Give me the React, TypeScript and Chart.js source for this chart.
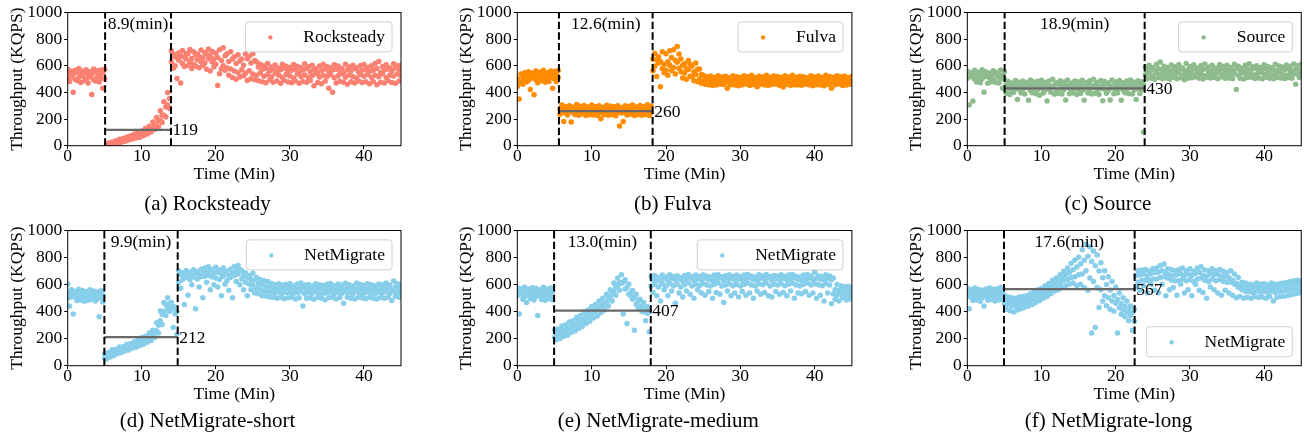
import React, { useEffect, useRef } from "react";
import { Chart, registerables } from "chart.js";

Chart.register(...registerables);

// ---------------- DATA ----------------
// sample times (minutes); rows *_1 and *_3 use TIMES, rows *_2 and *_4 use TIMES_B
const TIMES = [
  0, 0.5, 1, 1.5, 2, 2.5, 3, 3.5, 4, 4.5,
  5, 5.5, 6, 6.5, 7, 7.5, 8, 8.5, 9, 9.5,
  10, 10.5, 11, 11.5, 12, 12.5, 13, 13.5, 14, 14.5,
  15, 15.5, 16, 16.5, 17, 17.5, 18, 18.5, 19, 19.5,
  20, 20.5, 21, 21.5, 22, 22.5, 23, 23.5, 24, 24.5,
  25, 25.5, 26, 26.5, 27, 27.5, 28, 28.5, 29, 29.5,
  30, 30.5, 31, 31.5, 32, 32.5, 33, 33.5, 34, 34.5,
  35, 35.5, 36, 36.5, 37, 37.5, 38, 38.5, 39, 39.5,
  40, 40.5, 41, 41.5, 42, 42.5, 43, 43.5, 44, 44.5,
  45,
];
const TIMES_B = [
  0.25, 0.75, 1.25, 1.75, 2.25, 2.75, 3.25, 3.75, 4.25, 4.75,
  5.25, 5.75, 6.25, 6.75, 7.25, 7.75, 8.25, 8.75, 9.25, 9.75,
  10.25, 10.75, 11.25, 11.75, 12.25, 12.75, 13.25, 13.75, 14.25, 14.75,
  15.25, 15.75, 16.25, 16.75, 17.25, 17.75, 18.25, 18.75, 19.25, 19.75,
  20.25, 20.75, 21.25, 21.75, 22.25, 22.75, 23.25, 23.75, 24.25, 24.75,
  25.25, 25.75, 26.25, 26.75, 27.25, 27.75, 28.25, 28.75, 29.25, 29.75,
  30.25, 30.75, 31.25, 31.75, 32.25, 32.75, 33.25, 33.75, 34.25, 34.75,
  35.25, 35.75, 36.25, 36.75, 37.25, 37.75, 38.25, 38.75, 39.25, 39.75,
  40.25, 40.75, 41.25, 41.75, 42.25, 42.75, 43.25, 43.75, 44.25, 44.75,
];
const X_TICKS = [0, 10, 20, 30, 40];
const Y_TICKS = [0, 200, 400, 600, 800, 1000];

// (a) Rocksteady
const ROCK_WINDOW = [5.05, 13.95];
const ROCK_MEAN = 119;
const ROCK_1 = [
  572, 558, 566, 580, 561, 570, 555, 576, 563, 569,
  574, 20, 28, 37, 48, 54, 66, 74, 88, 97,
  110, 130, 146, 178, 212, 262, 330, 400, 712, 684,
  698, 715, 690, 722, 705, 688, 718, 700, 726, 708,
  695, 720, 736, 690, 705, 668, 682, 650, 688, 672,
  690, 628, 612, 598, 618, 590, 606, 584, 612, 596,
  588, 610, 596, 585, 615, 592, 604, 580, 598, 612,
  594, 586, 608, 598, 580, 612, 590, 604, 586, 600,
  610, 588, 600, 618, 632, 594, 608, 586, 616, 600,
  604,
];
const ROCK_2 = [
  545, 538, 552, 530, 548, 540, 535, 555, 528, 546,
  10, 16, 24, 32, 40, 48, 60, 68, 80, 86,
  100, 115, 134, 156, 188, 230, 290, 355, 672, 660,
  676, 664, 690, 655, 682, 670, 660, 688, 672, 650,
  662, 640, 676, 632, 650, 618, 636, 604, 652, 620,
  640, 590, 572, 580, 560, 576, 552, 570, 582, 558,
  566, 574, 550, 568, 580, 556, 572, 548, 564, 576,
  552, 568, 574, 556, 548, 570, 562, 578, 554, 566,
  572, 558, 566, 580, 550, 568, 576, 560, 584, 570,
];
const ROCK_3 = [
  505, 520, 498, 512, 526, 502, 515, 495, 518, 508,
  500, 6, 14, 24, 29, 40, 44, 57, 62, 74,
  82, 98, 110, 132, 150, 192, 228, 305, 628, 600,
  642, 618, 650, 626, 612, 645, 630, 620, 652, 628,
  612, 540, 600, 585, 576, 560, 548, 570, 544, 562,
  538, 528, 545, 522, 534, 516, 540, 528, 512, 536,
  524, 508, 538, 520, 530, 512, 526, 540, 515, 528,
  518, 532, 510, 526, 540, 514, 530, 520, 508, 534,
  522, 536, 514, 528, 518, 540, 512, 530, 524, 538,
  526,
];
const ROCK_4 = [
  482, 402, 490, 475, 488, 470, 384, 486, 478, 432,
  2, 6, 12, 20, 26, 34, 42, 50, 58, 64,
  76, 88, 102, 122, 142, 175, 215, 280, 582, 505,
  470, 594, 602, 580, 598, 586, 604, 574, 560, 592,
  452, 578, 566, 528, 512, 498, 515, 526, 490, 502,
  496, 488, 480, 472, 494, 476, 485, 468, 490, 478,
  472, 486, 468, 482, 476, 490, 450, 474, 466, 484,
  432, 402, 470, 484, 476, 462, 480, 470, 486, 474,
  480, 466, 482, 458, 476, 470, 488, 474, 468, 486,
];

// (b) Fulva
const FULVA_WINDOW = [5.6, 18.2];
const FULVA_MEAN = 260;
const FULVA_1 = [
  505, 538, 548, 556, 545, 560, 552, 566, 548, 560,
  558, 565, 305, 292, 300, 288, 310, 296, 302, 290,
  306, 294, 300, 286, 304, 298, 292, 300, 284, 300,
  296, 305, 290, 302, 294, 308, 298, 692, 668, 705,
  690, 712, 720, 745, 650, 615, 640, 598, 620, 575,
  528, 518, 524, 512, 526, 516, 522, 510, 525, 518,
  514, 526, 518, 528, 512, 522, 516, 528, 514, 524,
  520, 512, 526, 516, 528, 514, 522, 518, 510, 526,
  516, 524, 512, 528, 520, 514, 526, 518, 524, 512,
  522,
];
const FULVA_2 = [
  470, 512, 525, 518, 532, 522, 540, 526, 534, 540,
  530, 272, 278, 268, 276, 270, 282, 266, 274, 270,
  278, 268, 274, 270, 280, 266, 276, 272, 268, 278,
  270, 276, 266, 280, 272, 268, 650, 645, 632, 610,
  630, 662, 642, 688, 604, 578, 612, 556, 574, 534,
  502, 496, 504, 492, 500, 506, 494, 500, 490, 502,
  498, 504, 492, 500, 506, 494, 502, 496, 504, 492,
  500, 494, 506, 498, 490, 502, 496, 504, 494, 500,
  496, 504, 492, 500, 506, 494, 502, 490, 498, 504,
];
const FULVA_3 = [
  445, 478, 500, 492, 508, 496, 512, 500, 505, 514,
  500, 512, 252, 246, 258, 248, 244, 256, 250, 242,
  254, 246, 250, 242, 256, 248, 240, 252, 246, 250,
  244, 254, 246, 252, 240, 256, 250, 598, 620, 580,
  566, 604, 588, 626, 556, 545, 572, 518, 534, 500,
  478, 482, 470, 476, 484, 472, 480, 468, 478, 474,
  480, 470, 478, 484, 468, 476, 482, 470, 478, 486,
  472, 480, 468, 478, 484, 470, 476, 482, 468, 478,
  476, 484, 470, 478, 466, 482, 474, 480, 470, 484,
  476,
];
const FULVA_4 = [
  350, 462, 478, 422, 382, 472, 488, 476, 482, 432,
  482, 236, 182, 230, 178, 234, 228, 238, 226, 232,
  230, 226, 202, 234, 228, 232, 224, 148, 182, 230,
  236, 226, 232, 228, 234, 226, 562, 520, 442, 548,
  528, 564, 538, 582, 508, 498, 522, 488, 480, 468,
  462, 458, 452, 456, 462, 460, 432, 458, 456, 450,
  458, 464, 452, 460, 442, 462, 456, 452, 460, 464,
  454, 440, 462, 452, 458, 456, 454, 462, 458, 450,
  458, 456, 450, 462, 432, 458, 464, 452, 456, 462,
];

// (c) Source
const SOURCE_WINDOW = [5.03, 23.9];
const SOURCE_MEAN = 430;
const SOURCE_1 = [
  560, 548, 566, 552, 570, 556, 545, 562, 550, 568,
  555, 482, 470, 490, 476, 486, 472, 494, 478, 484,
  492, 474, 486, 498, 472, 488, 478, 494, 470, 486,
  480, 492, 474, 488, 498, 476, 490, 482, 470, 494,
  478, 490, 472, 486, 494, 476, 488, 480, 590, 604,
  586, 612, 628, 596, 588, 606, 592, 610, 584, 618,
  594, 608, 586, 602, 614, 590, 604, 584, 610, 596,
  604, 588, 612, 596, 584, 606, 616, 592, 600, 588,
  608, 594, 586, 612, 598, 590, 606, 596, 614, 600,
  612,
];
const SOURCE_2 = [
  532, 540, 524, 545, 530, 536, 528, 542, 534, 526,
  456, 446, 460, 450, 458, 444, 462, 452, 448, 458,
  450, 462, 446, 456, 464, 448, 458, 452, 444, 460,
  454, 446, 462, 450, 458, 444, 456, 464, 448, 452,
  460, 446, 456, 450, 462, 448, 454, 458, 566, 574,
  562, 578, 568, 574, 558, 570, 566, 580, 560, 572,
  568, 580, 564, 572, 576, 562, 574, 568, 578, 566,
  574, 562, 578, 568, 560, 576, 570, 582, 566, 572,
  578, 566, 572, 562, 580, 570, 576, 564, 574, 568,
];
const SOURCE_3 = [
  505, 518, 498, 512, 502, 520, 508, 496, 515, 504,
  500, 428, 416, 432, 420, 426, 436, 414, 430, 422,
  434, 418, 426, 438, 414, 430, 420, 436, 416, 428,
  424, 414, 432, 420, 436, 418, 430, 424, 412, 434,
  420, 432, 416, 428, 436, 418, 430, 422, 532, 545,
  526, 548, 536, 544, 528, 540, 532, 550, 526, 538,
  542, 530, 548, 536, 526, 544, 534, 540, 550, 532,
  546, 532, 540, 528, 548, 536, 544, 530, 538, 550,
  534, 546, 530, 542, 550, 536, 528, 544, 540, 534,
  548,
];
const SOURCE_4 = [
  305, 335, 478, 472, 402, 468, 480, 476, 470, 432,
  392, 384, 402, 346, 396, 388, 342, 398, 390, 378,
  396, 336, 402, 386, 394, 388, 344, 390, 396, 384,
  392, 342, 396, 388, 394, 384, 338, 394, 344, 390,
  396, 342, 398, 390, 388, 346, 392, 102, 502, 508,
  498, 512, 504, 508, 500, 514, 502, 510, 496, 506,
  510, 516, 506, 500, 514, 508, 512, 502, 516, 506,
  508, 502, 422, 506, 500, 512, 514, 504, 508, 502,
  514, 506, 502, 512, 508, 504, 510, 506, 462, 512,
];

// (d) NetMigrate-short
const SHORT_WINDOW = [4.95, 14.85];
const SHORT_MEAN = 212;
const SHORT_1 = [
  605, 562, 550, 566, 556, 548, 562, 552, 546, 555,
  88, 98, 118, 122, 138, 142, 158, 162, 178, 188,
  208, 218, 242, 262, 318, 405, 468, 502, 468, 428,
  702, 688, 705, 692, 710, 696, 714, 722, 732, 712,
  728, 706, 722, 698, 716, 734, 742, 702, 688, 668,
  684, 652, 638, 628, 622, 608, 598, 606, 596, 602,
  608, 592, 604, 612, 596, 600, 590, 606, 598, 594,
  602, 608, 592, 604, 596, 610, 598, 590, 612, 600,
  596, 606, 598, 592, 604, 598, 612, 596, 626, 606,
  602,
];
const SHORT_2 = [
  538, 528, 540, 532, 545, 530, 536, 528, 534, 522,
  72, 86, 98, 110, 120, 130, 140, 150, 160, 172,
  185, 200, 218, 245, 300, 380, 452, 460, 440, 400,
  672, 658, 682, 668, 684, 672, 686, 692, 702, 688,
  692, 678, 694, 668, 688, 702, 712, 668, 652, 638,
  636, 608, 598, 588, 584, 572, 568, 574, 566, 572,
  574, 562, 570, 580, 564, 572, 566, 576, 568, 564,
  572, 576, 562, 574, 564, 576, 570, 564, 580, 568,
  566, 576, 570, 562, 574, 568, 580, 564, 582, 572,
];
const SHORT_3 = [
  498, 508, 512, 502, 516, 504, 510, 500, 496, 505,
  55, 76, 88, 102, 108, 122, 128, 142, 148, 162,
  170, 188, 200, 222, 258, 332, 402, 432, 418, 384,
  618, 636, 652, 638, 656, 642, 658, 662, 668, 656,
  648, 638, 662, 628, 652, 668, 678, 642, 618, 602,
  598, 572, 566, 552, 548, 546, 538, 544, 536, 542,
  544, 534, 540, 548, 532, 542, 536, 546, 538, 532,
  540, 546, 532, 544, 536, 546, 540, 532, 548, 538,
  536, 546, 540, 532, 544, 538, 548, 534, 550, 542,
  538,
];
const SHORT_4 = [
  442, 382, 482, 486, 476, 484, 490, 478, 362, 472,
  50, 64, 76, 90, 96, 110, 116, 130, 136, 150,
  158, 174, 186, 208, 242, 305, 372, 402, 282, 232,
  572, 452, 522, 598, 422, 582, 502, 618, 562, 598,
  582, 518, 602, 558, 502, 622, 598, 562, 518, 562,
  538, 532, 518, 516, 508, 506, 498, 506, 496, 502,
  506, 494, 502, 442, 498, 502, 492, 506, 498, 488,
  502, 506, 494, 504, 462, 506, 498, 494, 506, 502,
  496, 506, 498, 494, 504, 498, 506, 482, 512, 506,
];

// (e) NetMigrate-medium
const MEDIUM_WINDOW = [4.95, 17.95];
const MEDIUM_MEAN = 407;
const MEDIUM_1 = [
  578, 570, 582, 566, 576, 572, 562, 580, 568, 575,
  262, 272, 294, 302, 324, 332, 358, 372, 398, 412,
  438, 452, 478, 498, 528, 562, 612, 648, 672, 636,
  604, 556, 528, 492, 468, 436, 662, 668, 650, 670,
  656, 672, 660, 666, 652, 668, 674, 658, 670, 660,
  672, 662, 656, 670, 674, 658, 666, 672, 660, 670,
  658, 670, 674, 662, 656, 672, 664, 674, 658, 668,
  664, 672, 660, 670, 674, 662, 656, 670, 674, 662,
  692, 666, 660, 672, 664, 648, 600, 592, 584, 588,
  582,
];
const MEDIUM_2 = [
  552, 545, 556, 540, 550, 546, 538, 554, 544, 548,
  236, 248, 264, 276, 294, 306, 328, 342, 368, 384,
  408, 422, 448, 468, 498, 532, 584, 618, 618, 578,
  540, 504, 476, 444, 418, 398, 632, 638, 624, 646,
  628, 646, 634, 642, 624, 640, 650, 630, 642, 634,
  646, 636, 630, 642, 650, 630, 640, 646, 634, 642,
  630, 642, 650, 636, 630, 646, 640, 650, 630, 642,
  636, 646, 634, 642, 650, 636, 630, 642, 650, 636,
  646, 640, 634, 646, 636, 562, 556, 560, 548, 556,
];
const MEDIUM_3 = [
  518, 528, 512, 524, 516, 510, 522, 514, 526, 518,
  208, 228, 236, 254, 266, 286, 298, 320, 336, 360,
  376, 400, 416, 444, 466, 508, 548, 592, 608, 568,
  528, 492, 452, 428, 398, 388, 588, 602, 582, 606,
  588, 608, 592, 602, 582, 598, 612, 590, 602, 594,
  606, 596, 590, 602, 612, 590, 596, 606, 592, 602,
  590, 602, 612, 596, 590, 606, 598, 612, 590, 602,
  596, 606, 592, 602, 612, 596, 590, 602, 612, 596,
  606, 598, 592, 606, 596, 530, 522, 532, 518, 526,
  520,
];
const MEDIUM_4 = [
  382, 492, 468, 496, 486, 372, 490, 484, 496, 486,
  192, 202, 218, 226, 246, 256, 276, 290, 312, 328,
  352, 368, 392, 412, 442, 478, 522, 558, 382, 312,
  520, 262, 432, 402, 332, 252, 542, 518, 478, 562,
  518, 552, 462, 538, 508, 552, 528, 498, 562, 538,
  522, 548, 498, 542, 528, 468, 552, 518, 538, 508,
  548, 522, 538, 498, 552, 528, 542, 518, 508, 548,
  528, 542, 518, 552, 498, 538, 532, 548, 522, 538,
  498, 522, 478, 538, 458, 492, 478, 502, 486, 494,
];

// (f) NetMigrate-long
const LONG_WINDOW = [4.95, 22.55];
const LONG_MEAN = 567;
const LONG_1 = [
  572, 562, 575, 566, 558, 568, 574, 565, 570, 578,
  522, 508, 502, 498, 508, 512, 518, 532, 542, 562,
  572, 592, 608, 632, 648, 672, 698, 722, 758, 782,
  802, 858, 898, 878, 848, 818, 762, 702, 658, 622,
  582, 538, 502, 478, 442, 418, 702, 708, 712, 698,
  718, 722, 742, 752, 718, 712, 702, 712, 722, 702,
  718, 698, 722, 732, 708, 702, 718, 702, 712, 698,
  688, 702, 678, 652, 618, 612, 602, 598, 612, 602,
  606, 598, 612, 602, 604, 612, 616, 622, 628, 632,
  628,
];
const LONG_2 = [
  545, 538, 550, 540, 532, 542, 548, 540, 546, 552,
  486, 474, 468, 472, 478, 486, 494, 508, 522, 538,
  552, 570, 590, 610, 630, 650, 670, 690, 710, 730,
  752, 780, 810, 770, 740, 700, 650, 600, 560, 520,
  490, 460, 440, 410, 392, 668, 672, 678, 662, 682,
  688, 692, 702, 688, 672, 668, 672, 682, 668, 678,
  668, 682, 692, 668, 662, 682, 672, 676, 662, 658,
  650, 632, 610, 588, 578, 574, 570, 582, 576, 580,
  572, 582, 576, 580, 586, 590, 594, 598, 604, 606,
];
const LONG_3 = [
  512, 508, 520, 510, 502, 514, 518, 508, 516, 522,
  458, 452, 442, 438, 448, 452, 468, 472, 492, 502,
  522, 532, 558, 572, 592, 608, 632, 638, 652, 658,
  672, 678, 702, 648, 622, 578, 562, 518, 502, 478,
  462, 428, 412, 398, 372, 328, 618, 632, 632, 628,
  642, 642, 652, 658, 648, 632, 628, 628, 642, 628,
  638, 622, 642, 648, 632, 622, 642, 628, 638, 622,
  618, 618, 602, 578, 562, 548, 548, 540, 552, 542,
  550, 540, 552, 542, 550, 550, 558, 558, 568, 568,
  572,
];
const LONG_4 = [
  422, 482, 486, 476, 442, 484, 490, 478, 486, 492,
  418, 406, 398, 412, 422, 432, 442, 452, 468, 482,
  498, 512, 532, 552, 562, 582, 592, 602, 612, 592,
  602, 578, 558, 242, 282, 430, 476, 444, 418, 402,
  242, 380, 362, 332, 262, 582, 558, 592, 538, 602,
  558, 540, 602, 518, 562, 578, 522, 602, 538, 562,
  518, 602, 558, 542, 498, 582, 562, 538, 522, 558,
  538, 522, 502, 512, 498, 506, 498, 512, 504, 508,
  498, 512, 478, 506, 512, 514, 520, 526, 532, 538,
];

// ---------------- LAYOUT / STYLE ----------------
const FONT_FAMILY = '"Liberation Serif", "Times New Roman", Times, serif';
const DURATION_LEVEL = 910;

type Box = { left: number; top: number; width: number; height: number };
type Plot = { left: number; top: number; right: number; bottom: number };
type PanelDef = {
  rows: [number[], number[]][];
  window: number[];
  mean: number;
  color: string;
  label: string;
  caption: string;
  captionX: number;
  captionY: number;
  cell: Box;
  plot: Plot;
  legendAt: "top" | "bottom";
};

const ROW1 = { top: 0, height: 218, pTop: 7.3, pBottom: 145.7, capY: 204 };
const ROW2 = { top: 218, height: 219, pTop: 229, pBottom: 365.7, capY: 421.7 };
const COL1 = { left: 0, width: 434, pLeft: 67.7, pRight: 401 };
const COL2 = { left: 434, width: 434, pLeft: 517.3, pRight: 851.9 };
const COL3 = { left: 868, width: 436, pLeft: 967.3, pRight: 1302 };

function mk(
  row: typeof ROW1,
  col: typeof COL1,
  rest: Omit<PanelDef, "cell" | "plot" | "captionY">
): PanelDef {
  return {
    ...rest,
    captionY: row.capY,
    cell: { left: col.left, top: row.top, width: col.width, height: row.height },
    plot: { left: col.pLeft, right: col.pRight, top: row.pTop, bottom: row.pBottom },
  };
}

const PANELS: PanelDef[] = [
  mk(ROW1, COL1, {
    rows: [[ROCK_1, TIMES], [ROCK_2, TIMES_B], [ROCK_3, TIMES], [ROCK_4, TIMES_B]],
    window: ROCK_WINDOW, mean: ROCK_MEAN,
    color: "#FA8072", label: "Rocksteady", caption: "(a) Rocksteady", captionX: 207.5, legendAt: "top",
  }),
  mk(ROW1, COL2, {
    rows: [[FULVA_1, TIMES], [FULVA_2, TIMES_B], [FULVA_3, TIMES], [FULVA_4, TIMES_B]],
    window: FULVA_WINDOW, mean: FULVA_MEAN,
    color: "#FF8C00", label: "Fulva", caption: "(b) Fulva", captionX: 672.7, legendAt: "top",
  }),
  mk(ROW1, COL3, {
    rows: [[SOURCE_1, TIMES], [SOURCE_2, TIMES_B], [SOURCE_3, TIMES], [SOURCE_4, TIMES_B]],
    window: SOURCE_WINDOW, mean: SOURCE_MEAN,
    color: "#8FBC8F", label: "Source", caption: "(c) Source", captionX: 1108, legendAt: "top",
  }),
  mk(ROW2, COL1, {
    rows: [[SHORT_1, TIMES], [SHORT_2, TIMES_B], [SHORT_3, TIMES], [SHORT_4, TIMES_B]],
    window: SHORT_WINDOW, mean: SHORT_MEAN,
    color: "#87CEEB", label: "NetMigrate", caption: "(d) NetMigrate-short", captionX: 207.5, legendAt: "top",
  }),
  mk(ROW2, COL2, {
    rows: [[MEDIUM_1, TIMES], [MEDIUM_2, TIMES_B], [MEDIUM_3, TIMES], [MEDIUM_4, TIMES_B]],
    window: MEDIUM_WINDOW, mean: MEDIUM_MEAN,
    color: "#87CEEB", label: "NetMigrate", caption: "(e) NetMigrate-medium", captionX: 658.3, legendAt: "top",
  }),
  mk(ROW2, COL3, {
    rows: [[LONG_1, TIMES], [LONG_2, TIMES_B], [LONG_3, TIMES], [LONG_4, TIMES_B]],
    window: LONG_WINDOW, mean: LONG_MEAN,
    color: "#87CEEB", label: "NetMigrate", caption: "(f) NetMigrate-long", captionX: 1108.5, legendAt: "bottom",
  }),
];

function font(size: number) {
  return `${size}px ${FONT_FAMILY}`;
}

function makeDecor(def: PanelDef) {
  return {
    id: "decor",
    afterDraw(chart: any) {
      const ctx: CanvasRenderingContext2D = chart.ctx;
      const a = chart.chartArea;
      const xs = chart.scales.x;
      const ys = chart.scales.y;
      const [start, end] = def.window;
      ctx.save();
      // frame
      ctx.strokeStyle = "#000";
      ctx.lineWidth = 1;
      ctx.strokeRect(a.left, a.top, a.right - a.left, a.bottom - a.top);

      ctx.fillStyle = "#000";
      ctx.font = font(17.5);
      ctx.textBaseline = "middle";
      // duration label
      ctx.textAlign = "center";
      const xStart = xs.getPixelForValue(start);
      const xEnd = xs.getPixelForValue(end);
      ctx.fillText(`${(end - start).toFixed(1)}(min)`, (xStart + xEnd) / 2, ys.getPixelForValue(DURATION_LEVEL));
      // mean label
      ctx.textAlign = "left";
      ctx.fillText(String(def.mean), xEnd + 1.5, ys.getPixelForValue(def.mean) + 1);

      // axis titles
      ctx.textAlign = "center";
      ctx.fillText("Time (Min)", (a.left + a.right) / 2, a.bottom + 28.5);
      ctx.save();
      ctx.translate(a.left - 50.5, (a.top + a.bottom) / 2);
      ctx.rotate(-Math.PI / 2);
      ctx.fillText("Throughput (KQPS)", 0, 0);
      ctx.restore();

      // caption
      ctx.font = font(21);
      ctx.fillText(def.caption, def.captionX - def.cell.left, def.captionY - def.cell.top);

      // legend
      ctx.font = font(17.5);
      const tw = ctx.measureText(def.label).width;
      const w = tw + 65;
      const h = 30;
      const right = a.right - 9;
      const left = right - w;
      const top = def.legendAt === "top" ? a.top + 9.4 : a.bottom - 9 - h;
      const r = 3;
      ctx.beginPath();
      ctx.moveTo(left + r, top);
      ctx.lineTo(right - r, top);
      ctx.arcTo(right, top, right, top + r, r);
      ctx.lineTo(right, top + h - r);
      ctx.arcTo(right, top + h, right - r, top + h, r);
      ctx.lineTo(left + r, top + h);
      ctx.arcTo(left, top + h, left, top + h - r, r);
      ctx.lineTo(left, top + r);
      ctx.arcTo(left, top, left + r, top, r);
      ctx.closePath();
      ctx.fillStyle = "rgba(255,255,255,0.8)";
      ctx.fill();
      ctx.strokeStyle = "#d0d0d0";
      ctx.lineWidth = 1;
      ctx.stroke();
      ctx.beginPath();
      ctx.arc(left + 25, top + h / 2 + 0.5, 2.2, 0, Math.PI * 2);
      ctx.fillStyle = def.color;
      ctx.fill();
      ctx.fillStyle = "#000";
      ctx.textAlign = "left";
      ctx.fillText(def.label, left + 58, top + h / 2 + 0.5);
      ctx.restore();
    },
  };
}

function buildConfig(def: PanelDef): any {
  const [start, end] = def.window;
  const points = def.rows.flatMap(([vals, times]) => vals.map((v, i) => ({ x: times[i], y: v })));
  const tickFont = { family: FONT_FAMILY, size: 17.5 };
  const cellRight = def.cell.left + def.cell.width;
  const cellBottom = def.cell.top + def.cell.height;
  return {
    type: "scatter",
    data: {
      datasets: [
        {
          label: "start",
          data: [{ x: start, y: 0 }, { x: start, y: 1000 }],
          showLine: true, borderColor: "#000", borderWidth: 2, borderDash: [7.4, 3.2], pointRadius: 0,
        },
        {
          label: "end",
          data: [{ x: end, y: 0 }, { x: end, y: 1000 }],
          showLine: true, borderColor: "#000", borderWidth: 2, borderDash: [7.4, 3.2], pointRadius: 0,
        },
        {
          label: "mean",
          data: [{ x: start, y: def.mean }, { x: end, y: def.mean }],
          showLine: true, borderColor: "#696969", borderWidth: 2.2, pointRadius: 0,
        },
        {
          label: def.label,
          data: points,
          backgroundColor: def.color,
          borderWidth: 0,
          pointRadius: 2.75,
          pointHoverRadius: 2.75,
          clip: 0,
        },
      ],
    },
    options: {
      animation: false,
      responsive: true,
      maintainAspectRatio: false,
      events: [],
      layout: {
        padding: {
          top: def.plot.top - def.cell.top,
          right: cellRight - def.plot.right,
          left: 0,
          bottom: 0,
        },
      },
      plugins: { legend: { display: false }, tooltip: { enabled: false }, title: { display: false } },
      scales: {
        x: {
          type: "linear",
          min: 0,
          max: 45,
          afterBuildTicks: (s: any) => { s.ticks = X_TICKS.map((v) => ({ value: v })); },
          afterFit: (s: any) => { s.height = cellBottom - def.plot.bottom; },
          ticks: { font: tickFont, color: "#000", padding: -3, maxRotation: 0, callback: (v: any) => String(v) },
          grid: { display: true, drawOnChartArea: false, drawTicks: true, tickLength: 3.5, color: "#000" },
          border: { display: false },
        },
        y: {
          type: "linear",
          min: 0,
          max: 1000,
          afterBuildTicks: (s: any) => { s.ticks = Y_TICKS.map((v) => ({ value: v })); },
          afterFit: (s: any) => { s.width = def.plot.left - def.cell.left; },
          ticks: { font: tickFont, color: "#000", padding: 2, callback: (v: any) => String(v) },
          grid: { display: true, drawOnChartArea: false, drawTicks: true, tickLength: 3.5, color: "#000" },
          border: { display: false },
        },
      },
    },
    plugins: [makeDecor(def)],
  };
}

function Panel({ def }: { def: PanelDef }) {
  const ref = useRef<HTMLCanvasElement | null>(null);
  useEffect(() => {
    if (!ref.current) return;
    const chart = new Chart(ref.current, buildConfig(def));
    return () => chart.destroy();
  }, [def]);
  return (
    <div
      style={{
        position: "absolute",
        left: def.cell.left,
        top: def.cell.top,
        width: def.cell.width,
        height: def.cell.height,
      }}
    >
      <canvas ref={ref} />
    </div>
  );
}

export default function App() {
  return (
    <div
      style={{
        position: "absolute",
        left: 0,
        top: 0,
        width: 1304,
        height: 437,
        overflow: "hidden",
        background: "#fff",
      }}
    >
      {PANELS.map((p, i) => (
        <Panel key={i} def={p} />
      ))}
    </div>
  );
}
